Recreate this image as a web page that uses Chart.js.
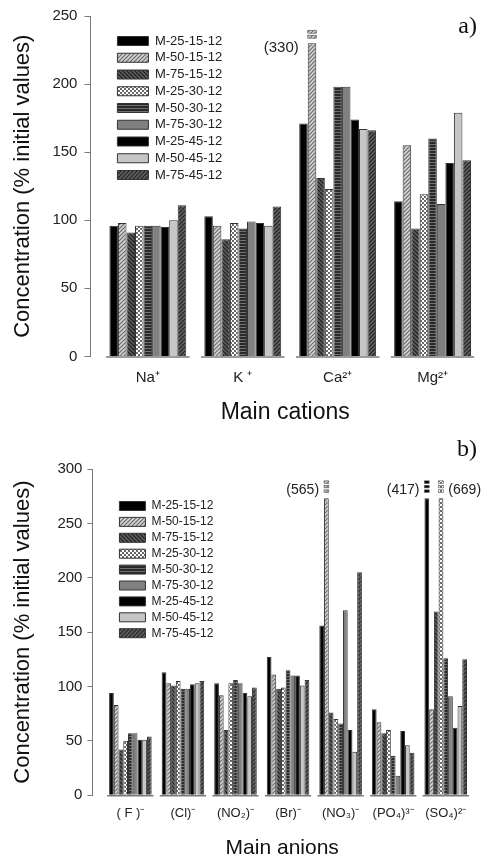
<!DOCTYPE html>
<html>
<head>
<meta charset="utf-8">
<script src="https://cdn.jsdelivr.net/npm/chart.js@4.4.1/dist/chart.umd.min.js"></script>
<style>
  body { margin: 0; background: #fff; }
  #wrap { position: relative; width: 487px; height: 861px; }
  canvas { position: absolute; left: 0; }
  #cationChart { top: 0; }
  #anionChart { top: 430px; }
</style>
</head>
<body>
<div id="wrap">
  <canvas id="cationChart" width="487" height="430"></canvas>
  <canvas id="anionChart" width="487" height="431"></canvas>
</div>
<script>
const seriesNames = ["M-25-15-12", "M-50-15-12", "M-75-15-12", "M-25-30-12", "M-50-30-12",
    "M-75-30-12", "M-25-45-12", "M-50-45-12", "M-75-45-12"]

// a) main cations: Na, K, Ca, Mg
const cationLabels = ["Na⁺", "K ⁺", "Ca²⁺", "Mg²⁺"]
const cationTicks = [0, 50, 100, 150, 200, 250]
const cationM25_15 = [96, 103, 171, 114]
const cationM50_15 = [98, 96, 330, 155]
const cationM75_15 = [91, 86, 131, 94]
const cationM25_30 = [96, 98, 123, 119]
const cationM50_30 = [96, 94, 198, 160]
const cationM75_30 = [96, 99, 198, 112]
const cationM25_45 = [95, 98, 174, 142]
const cationM50_45 = [100, 96, 167, 179]
const cationM75_45 = [111, 110, 166, 144]
const cationCap = 230

// b) main anions: F, Cl, NO2, Br, NO3, PO4, SO4
const anionLabels = ["( F )⁻", "(Cl)⁻", "(NO₂)⁻", "(Br)⁻", "(NO₃)⁻", "(PO₄)³⁻", "(SO₄)²⁻"]
const anionTicks = [0, 50, 100, 150, 200, 250, 300]
const anionM25_15 = [94, 113, 103, 127, 156, 79, 417]
const anionM50_15 = [83, 103, 92, 111, 565, 67, 79]
const anionM75_15 = [42, 101, 60, 98, 76, 57, 169]
const anionM25_30 = [50, 105, 103, 99, 70, 60, 669]
const anionM50_30 = [57, 98, 106, 115, 66, 36, 126]
const anionM75_30 = [57, 98, 103, 110, 170, 18, 91]
const anionM25_45 = [51, 102, 94, 110, 60, 59, 62]
const anionM50_45 = [51, 103, 91, 101, 40, 46, 82]
const anionM75_45 = [54, 105, 99, 106, 205, 39, 125]
const anionCap = 273

const cationSeries = [cationM25_15, cationM50_15, cationM75_15, cationM25_30, cationM50_30,
    cationM75_30, cationM25_45, cationM50_45, cationM75_45]
const anionSeries = [anionM25_15, anionM50_15, anionM75_15, anionM25_30, anionM50_30,
    anionM75_30, anionM25_45, anionM50_45, anionM75_45]

Chart.defaults.font.family = "'Liberation Sans', Arial, sans-serif"
Chart.defaults.color = "#222"

// little tiles for the hatched fills
function makePattern(bg, fg, kind) {
    const tile = document.createElement("canvas")
    tile.width = 4
    tile.height = kind == "horiz" ? 3 : 4
    const c = tile.getContext("2d")
    c.fillStyle = bg
    c.fillRect(0, 0, tile.width, tile.height)
    c.strokeStyle = fg
    c.fillStyle = fg
    c.lineWidth = 1.1
    c.beginPath()
    if (kind == "fwd") {
        c.moveTo(-2, 2); c.lineTo(2, -2)
        c.moveTo(-1, 5); c.lineTo(5, -1)
        c.moveTo(2, 6); c.lineTo(6, 2)
        c.stroke()
    } else if (kind == "back") {
        c.moveTo(-1, -1); c.lineTo(5, 5)
        c.moveTo(3, -1); c.lineTo(5, 1)
        c.moveTo(-1, 3); c.lineTo(1, 5)
        c.stroke()
    } else if (kind == "check") {
        c.fillRect(0, 0, 2, 2)
        c.fillRect(2, 2, 2, 2)
    } else if (kind == "horiz") {
        c.fillRect(0, 0, 4, 1)
    }
    return c.createPattern(tile, "repeat")
}

const barFills = [
    "#000000",
    makePattern("#d2d2d2", "#6a6a6a", "fwd"),
    makePattern("#5c5c5c", "#1c1c1c", "back"),
    makePattern("#ffffff", "#6a6a6a", "check"),
    makePattern("#2a2a2a", "#707070", "horiz"),
    "#808080",
    "#000000",
    "#c6c6c6",
    makePattern("#606060", "#202020", "fwd")
]

// x axis drawn as one short line under each group
const segmentPlugin = {
    id: "segments",
    afterDatasetsDraw(chart, args, opts) {
        const ctx = chart.ctx
        const sx = chart.scales.x
        const y = chart.chartArea.bottom + 0.5
        ctx.save()
        ctx.strokeStyle = "#7a7a7a"
        ctx.lineWidth = 1.5
        opts.labels.forEach((l, i) => {
            ctx.beginPath()
            ctx.moveTo(sx.getPixelForValue(i - 0.44), y)
            ctx.lineTo(sx.getPixelForValue(i + 0.44), y)
            ctx.stroke()
        })
        ctx.restore()
    }
}

// off-scale bars: small broken pieces above the bar and the true value
const breakPlugin = {
    id: "breaks",
    afterDatasetsDraw(chart, args, opts) {
        const ctx = chart.ctx
        chart.data.datasets.forEach((ds, i) => {
            const meta = chart.getDatasetMeta(i)
            opts.real[i].forEach((v, j) => {
                if (v <= opts.cap) return
                const bar = meta.data[j]
                const left = bar.x - bar.width / 2
                ctx.save()
                ctx.fillStyle = ds.backgroundColor
                ctx.strokeStyle = "#555"
                ctx.lineWidth = 0.6
                for (let k = 0; k < opts.chunks; k++) {
                    const top = bar.y - opts.chunkStart - k * opts.chunkStep - opts.chunkH
                    ctx.fillRect(left, top, bar.width, opts.chunkH)
                    ctx.strokeRect(left, top, bar.width, opts.chunkH)
                }
                ctx.fillStyle = "#222"
                ctx.font = opts.fontSize + "px 'Liberation Sans', Arial, sans-serif"
                ctx.textBaseline = "middle"
                const onRight = opts.rightOf.some(p => p[0] == i && p[1] == j)
                if (onRight) {
                    ctx.textAlign = "left"
                    ctx.fillText("(" + v + ")", left + bar.width + opts.gap, bar.y + opts.labelDy)
                } else {
                    ctx.textAlign = "right"
                    ctx.fillText("(" + v + ")", left - opts.gap, bar.y + opts.labelDy)
                }
                ctx.restore()
            })
        })
    }
}

const panelPlugin = {
    id: "panel",
    afterDraw(chart, args, opts) {
        const ctx = chart.ctx
        ctx.save()
        ctx.font = "24px 'Liberation Serif', 'Times New Roman', serif"
        ctx.fillStyle = "#111"
        ctx.textAlign = "right"
        ctx.textBaseline = "middle"
        ctx.fillText(opts.text, opts.x, opts.y)
        ctx.restore()
    }
}

// put the legend block inside the plot, upper left
const legendPlacer = {
    id: "legendPlacer",
    afterLayout(chart, args, opts) {
        const lg = chart.legend
        lg.left = chart.chartArea.left + opts.dx
        lg.top = chart.chartArea.top + opts.dy
        lg.right = lg.left + lg.width
        lg.bottom = chart.chartArea.bottom
    }
}

function buildChart(id, s) {
    const datasets = s.series.map((vals, i) => ({
        label: seriesNames[i],
        data: vals.map(v => Math.min(v, s.cap)),
        backgroundColor: barFills[i],
        borderColor: "#333",
        borderWidth: 1,
        categoryPercentage: 0.81,
        barPercentage: 1
    }))

    return new Chart(document.getElementById(id), {
        type: "bar",
        data: { labels: s.labels.map((l, i) => i), datasets: datasets },
        plugins: [segmentPlugin, breakPlugin, panelPlugin, legendPlacer],
        options: {
            responsive: false,
            animation: false,
            layout: { padding: s.padding },
            plugins: {
                tooltip: { enabled: false },
                legend: {
                    position: "chartArea",
                    align: "start",
                    labels: { boxWidth: s.box[0], boxHeight: s.box[1], padding: s.legendPad,
                        color: "#222", font: { size: s.legendFont } }
                },
                legendPlacer: { dx: s.legendAt[0], dy: s.legendAt[1] },
                segments: { labels: s.labels },
                breaks: Object.assign({ real: s.series, cap: s.cap }, s.breaks),
                panel: s.panel
            },
            scales: {
                x: {
                    type: "linear",
                    offset: false,
                    min: s.xRange[0],
                    max: s.xRange[1],
                    afterBuildTicks: axis => { axis.ticks = s.labels.map((l, i) => ({ value: i })) },
                    grid: { display: false, drawTicks: false },
                    border: { display: false },
                    ticks: { autoSkip: false, maxRotation: 0, padding: s.xTickPad, color: "#222",
                        font: { size: s.xTickFont }, callback: v => s.labels[v] },
                    title: { display: true, text: s.xTitle, color: "#111",
                        font: { size: s.xTitleFont }, padding: s.xTitlePad }
                },
                y: {
                    min: 0,
                    max: s.ticks[s.ticks.length - 1],
                    afterBuildTicks: axis => { axis.ticks = s.ticks.map(v => ({ value: v })) },
                    grid: { display: true, drawOnChartArea: false, drawTicks: true,
                        tickLength: s.yTickLen, color: "#7a7a7a" },
                    border: { display: true, color: "#7a7a7a", width: 1 },
                    ticks: { padding: s.yTickPad, color: "#222", font: { size: 15 } },
                    title: { display: true, text: "Concentration (% initial values)", color: "#111",
                        font: { size: 22 }, padding: s.yTitlePad }
                }
            }
        }
    })
}

buildChart("cationChart", {
    labels: cationLabels,
    series: cationSeries,
    ticks: cationTicks,
    cap: cationCap,
    padding: { top: 14, right: 7, bottom: 0, left: 0 },
    xRange: [-0.605, 3.5],
    xTitle: "Main cations",
    xTickFont: 15, xTickPad: 12,
    xTitleFont: 23, xTitlePad: { top: 0, bottom: 4 },
    yTickLen: 6, yTickPad: 7,
    yTitlePad: { top: 10, bottom: 9 },
    box: [31, 9], legendPad: 3.75, legendFont: 13, legendAt: [23.25, 14.75],
    breaks: { chunks: 2, chunkStart: 5, chunkStep: 5, chunkH: 3, fontSize: 15,
        gap: 9, labelDy: 5, rightOf: [] },
    panel: { text: "a)", x: 477, y: 27 }
})

buildChart("anionChart", {
    labels: anionLabels,
    series: anionSeries,
    ticks: anionTicks,
    cap: anionCap,
    padding: { top: 39, right: 15, bottom: 0, left: 0 },
    xRange: [-0.722, 6.5],
    xTitle: "Main anions",
    xTickFont: 13, xTickPad: 10,
    xTitleFont: 21, xTitlePad: { top: 5, bottom: 0 },
    yTickLen: 5, yTickPad: 5,
    yTitlePad: { top: 10, bottom: 16 },
    box: [26, 9], legendPad: 3.9, legendFont: 12, legendAt: [23.1, 27.1],
    breaks: { chunks: 3, chunkStart: 6, chunkStep: 4.5, chunkH: 2.5, fontSize: 14,
        gap: 5, labelDy: -8, rightOf: [[3, 6]] },
    panel: { text: "b)", x: 477, y: 20 }
})
</script>
</body>
</html>
